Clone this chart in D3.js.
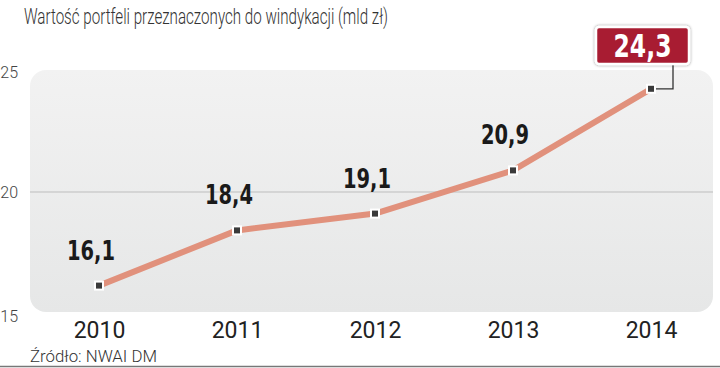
<!DOCTYPE html>
<html>
<head>
<meta charset="utf-8">
<script src="https://cdn.jsdelivr.net/npm/d3@7"></script>
<style>
  body { margin: 0; background: #fff; }
  svg { display: block; }
</style>
</head>
<body>
<svg id="chart" width="720" height="368"></svg>
<script>
// data
const years = ["2010", "2011", "2012", "2013", "2014"];
const values = [16.1, 18.4, 19.1, 20.9, 24.3];
const yTicks = [15, 20, 25];
const title = "Wartość portfeli przeznaczonych do windykacji (mld zł)";
const source = "Źródło: NWAI DM";

const svg = d3.select("#chart");
const plot = {left: 30, right: 713, top: 70, bottom: 312};

const x = d3.scalePoint()
  .domain(years)
  .range([99, 651]);

const y = d3.scaleLinear()
  .domain([15, 25])
  .range([312, 72]);

const fmt = v => d3.format(".1f")(v).replace(".", ",");
const boldFont = "'DejaVu Sans Condensed', 'DejaVu Sans', sans-serif";

// background gradient
let defs = svg.append("defs");
let grad = defs.append("linearGradient")
  .attr("id", "bg").attr("x1", 0).attr("y1", 0).attr("x2", 0).attr("y2", 1);
grad.append("stop").attr("offset", 0).attr("stop-color", "#f2f2f2");
grad.append("stop").attr("offset", 1).attr("stop-color", "#e6e7e7");

let shadow = defs.append("filter").attr("id", "sh")
  .attr("x", "-20%").attr("y", "-30%").attr("width", "140%").attr("height", "160%");
shadow.append("feDropShadow").attr("dx", 0).attr("dy", 0)
  .attr("stdDeviation", 1.5).attr("flood-color", "#000").attr("flood-opacity", 0.45);

svg.append("rect")
  .attr("x", plot.left).attr("y", plot.top)
  .attr("width", plot.right - plot.left).attr("height", plot.bottom - plot.top)
  .attr("rx", 16).attr("ry", 16)
  .attr("fill", "url(#bg)");

// title
svg.append("text")
  .attr("x", 24).attr("y", 24)
  .attr("font-family", "Roboto, sans-serif")
  .attr("font-weight", 300)
  .attr("font-size", 22)
  .attr("fill", "#333")
  .attr("textLength", 364)
  .attr("lengthAdjust", "spacingAndGlyphs")
  .text(title);

// grid line at 20
svg.append("line")
  .attr("x1", plot.left).attr("x2", plot.right)
  .attr("y1", y(20)).attr("y2", y(20))
  .attr("stroke", "#bdbdbd").attr("stroke-width", 1);

// y axis labels
let yAxis = d3.axisLeft(y).tickValues(yTicks).tickSize(0).tickPadding(0);
let yg = svg.append("g").attr("transform", "translate(18,0)").call(yAxis);
yg.select(".domain").remove();
yg.selectAll("text")
  .attr("font-family", "Roboto, sans-serif")
  .attr("font-weight", 300)
  .attr("font-size", 16)
  .attr("fill", "#444");
yg.selectAll(".tick").filter(d => d === 15).select("text").attr("dy", "0.6em");

// x axis labels
let xAxis = d3.axisBottom(x).tickSize(0).tickPadding(0);
let xg = svg.append("g").attr("transform", "translate(0,321)").call(xAxis);
xg.select(".domain").remove();
xg.selectAll("text")
  .attr("font-family", "Roboto, sans-serif")
  .attr("font-weight", 400)
  .attr("font-size", 23)
  .attr("fill", "#222")
  .attr("dy", "0.76em");

// line
let line = d3.line()
  .x((d, i) => x(years[i]))
  .y(d => y(d));

svg.append("path")
  .datum(values)
  .attr("d", line)
  .attr("fill", "none")
  .attr("stroke", "#e1917c")
  .attr("stroke-width", 6)
  .attr("stroke-linejoin", "round");

// connector for last value
let last = values.length - 1;
let lx = x(years[last]), ly = y(values[last]);
svg.append("path")
  .attr("d", `M${lx},${ly}H${lx + 22}V65`)
  .attr("fill", "none")
  .attr("stroke", "#333")
  .attr("stroke-width", 1.3);

// markers
svg.selectAll(".mark")
  .data(values)
  .enter()
  .append("rect")
  .attr("class", "mark")
  .attr("x", (d, i) => x(years[i]) - 4)
  .attr("y", d => y(d) - 4)
  .attr("width", 8).attr("height", 8)
  .attr("fill", "#3a3a3a")
  .attr("stroke", "#fff")
  .attr("stroke-width", 2);

// value labels
svg.selectAll(".val")
  .data(values.slice(0, last))
  .enter()
  .append("text")
  .attr("class", "val")
  .attr("x", (d, i) => x(years[i]) - 8)
  .attr("y", d => y(d) - 26)
  .attr("text-anchor", "middle")
  .attr("font-family", boldFont)
  .attr("font-weight", "bold")
  .attr("font-size", 27)
  .attr("fill", "#1a1a1a")
  .attr("textLength", 48)
  .attr("lengthAdjust", "spacingAndGlyphs")
  .text(d => fmt(d));

// highlighted last value
let bx = 596, bw = 93, by = 27, bh = 37;
svg.append("rect")
  .attr("x", bx).attr("y", by)
  .attr("width", bw).attr("height", bh)
  .attr("rx", 3)
  .attr("fill", "#a81c32")
  .attr("stroke", "#fff")
  .attr("stroke-width", 2.5)
  .attr("filter", "url(#sh)");
svg.append("text")
  .attr("x", bx + bw / 2).attr("y", by + bh / 2)
  .attr("dy", "0.36em")
  .attr("text-anchor", "middle")
  .attr("font-family", boldFont)
  .attr("font-weight", "bold")
  .attr("font-size", 32)
  .attr("fill", "#fff")
  .attr("textLength", 58)
  .attr("lengthAdjust", "spacingAndGlyphs")
  .text(fmt(values[last]));

// source + bottom rule
svg.append("text")
  .attr("x", 30).attr("y", 362)
  .attr("font-family", "Roboto, sans-serif")
  .attr("font-weight", 300)
  .attr("font-size", 16)
  .attr("fill", "#333")
  .attr("textLength", 127)
  .attr("lengthAdjust", "spacingAndGlyphs")
  .text(source);

svg.append("line")
  .attr("x1", 0).attr("x2", 720)
  .attr("y1", 366.5).attr("y2", 366.5)
  .attr("stroke", "#777").attr("stroke-width", 1.5);
</script>
</body>
</html>
